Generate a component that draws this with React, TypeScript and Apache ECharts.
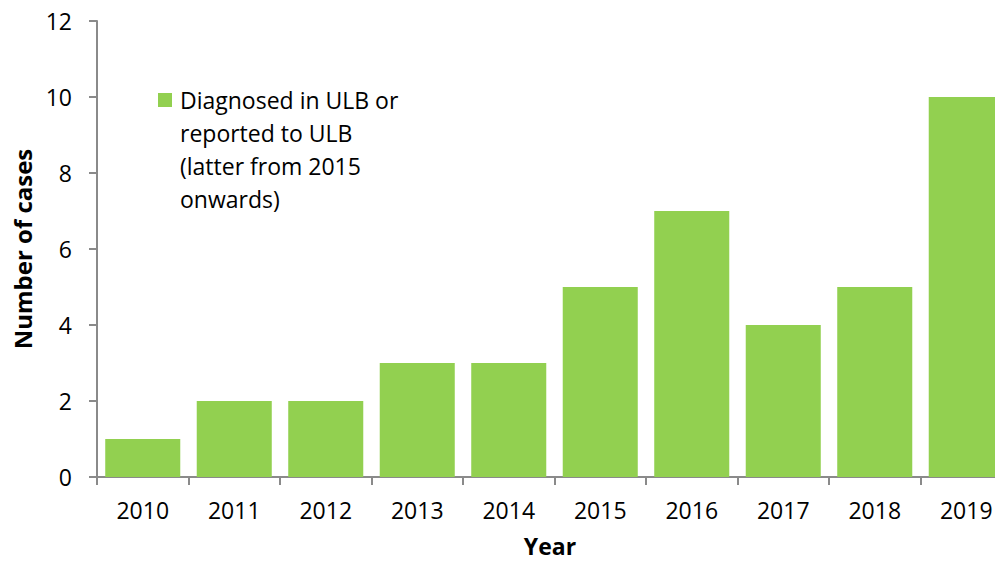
import React, { useEffect, useRef } from "react";
import * as echarts from "echarts";

const years = ["2010", "2011", "2012", "2013", "2014", "2015", "2016", "2017", "2018", "2019"];
const cases = [1, 2, 2, 3, 3, 5, 7, 4, 5, 10];
const seriesName = "Diagnosed in ULB or\nreported to ULB\n(latter from 2015\nonwards)";
const yTicks = { min: 0, max: 12, interval: 2 };

const FONT = "'Open Sans', Lato, sans-serif";
const GREEN = "#92D050";
const AXIS = "#8a8a8a";

export default function App() {
  const ref = useRef<HTMLDivElement>(null);
  useEffect(() => {
    if (!ref.current) return;
    const chart = echarts.init(ref.current, undefined, { renderer: "svg" });
    chart.setOption({
      animation: false,
      backgroundColor: "#ffffff",
      grid: {
        left: 97,
        top: 21,
        width: 915,
        height: 456,
        containLabel: false,
        outerBoundsMode: "none",
      },
      xAxis: {
        type: "category",
        data: years,
        name: "Year",
        nameLocation: "middle",
        nameGap: 58,
        nameTextStyle: {
          fontFamily: FONT,
          fontSize: 23,
          lineHeight: 21,
          fontWeight: "bold",
          color: "#000",
          padding: [0, 9, 0, 0],
        },
        axisLine: { lineStyle: { color: AXIS, width: 2 } },
        axisTick: { show: true, length: 8, lineStyle: { color: AXIS, width: 2 } },
        axisLabel: { fontFamily: FONT, fontSize: 23, color: "#000", margin: 21 },
      },
      yAxis: {
        type: "value",
        min: yTicks.min,
        max: yTicks.max,
        interval: yTicks.interval,
        name: "Number of cases",
        nameLocation: "middle",
        nameRotate: 90,
        nameGap: 62,
        nameTextStyle: { fontFamily: FONT, fontSize: 24, fontWeight: "bold", color: "#000" },
        axisLine: { show: true, lineStyle: { color: AXIS, width: 2 } },
        axisTick: { show: true, length: 8, lineStyle: { color: AXIS, width: 2 } },
        axisLabel: { fontFamily: FONT, fontSize: 23, color: "#000", margin: 25 },
        splitLine: { show: false },
      },
      series: [
        {
          name: seriesName,
          type: "bar",
          data: cases,
          barCategoryGap: "18%",
          itemStyle: { color: GREEN },
        },
      ],
      graphic: [
        { type: "rect", shape: { x: 158, y: 93, width: 14, height: 14 }, style: { fill: GREEN } },
        {
          type: "text",
          x: 180,
          y: 83,
          style: {
            text: seriesName,
            fontFamily: FONT,
            fontSize: 23,
            lineHeight: 33,
            fill: "#000",
          },
        },
      ],
    });
    return () => chart.dispose();
  }, []);
  return (
    <div
      ref={ref}
      style={{ position: "fixed", left: 0, top: 0, width: 995, height: 562, overflow: "hidden" }}
    />
  );
}
